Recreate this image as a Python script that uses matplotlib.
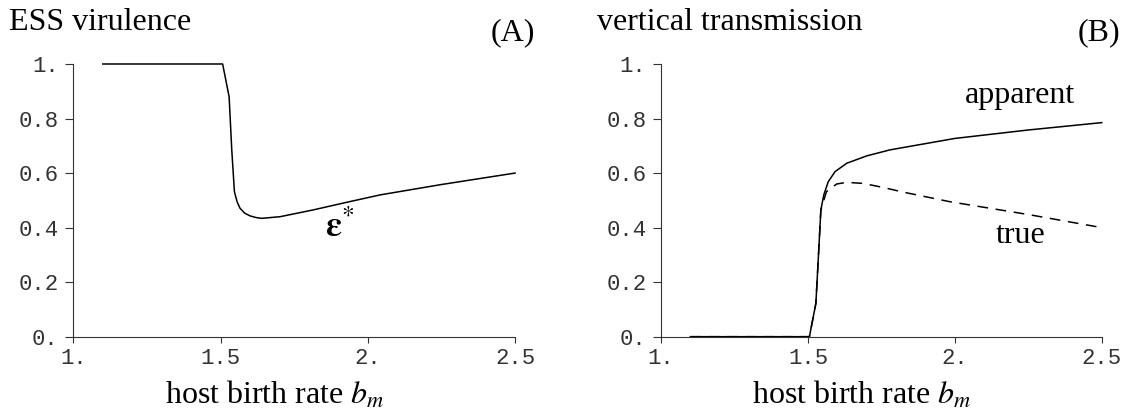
import matplotlib
matplotlib.use('Agg')
import matplotlib.pyplot as plt

# 字体设置
plt.rcParams['font.family'] = ['Liberation Serif', 'DejaVu Serif']
plt.rcParams['mathtext.fontset'] = 'stix'

# (A) ESS virulence 数据
bm_a = [1.1, 1.507, 1.529, 1.538, 1.547, 1.556, 1.566, 1.582, 1.600, 1.620, 1.640, 1.702,
        1.815, 1.929, 2.042, 2.25, 2.5]
ess = [1.0, 1.0, 0.880, 0.685, 0.532, 0.495, 0.471, 0.453, 0.443, 0.437, 0.434, 0.440,
       0.465, 0.493, 0.520, 0.558, 0.600]

# (B) vertical transmission 数据
bm_app = [1.1, 1.505, 1.527, 1.535, 1.544, 1.554, 1.569, 1.592, 1.632, 1.700, 1.779, 2.0, 2.25, 2.5]
apparent = [0.0, 0.0, 0.122, 0.281, 0.465, 0.520, 0.568, 0.605, 0.636, 0.663, 0.685, 0.727, 0.758, 0.785]
bm_true = [1.1, 1.505, 1.527, 1.535, 1.544, 1.563, 1.598, 1.632, 1.689, 1.757, 1.825, 1.983, 2.25, 2.5]
true_v = [0.0, 0.0, 0.122, 0.281, 0.465, 0.532, 0.560, 0.566, 0.562, 0.547, 0.530, 0.495, 0.448, 0.400]

xticks = [1.0, 1.5, 2.0, 2.5]
xtick_labels = ['1.', '1.5', '2.', '2.5']
yticks = [0.0, 0.2, 0.4, 0.6, 0.8, 1.0]
ytick_labels = ['0.', '0.2', '0.4', '0.6', '0.8', '1.']

fig = plt.figure(figsize=(11.25, 4.11), dpi=100)
ax1 = fig.add_axes([0.0652, 0.1808, 0.3926, 0.6635])
ax2 = fig.add_axes([0.5876, 0.1808, 0.3917, 0.6635])

ax1.plot(bm_a, ess, color='black', lw=1.1, clip_on=False)
ax2.plot(bm_app, apparent, color='black', lw=1.1, clip_on=False)
ax2.plot(bm_true, true_v, color='black', lw=1.1, ls=(0, (7, 5)), clip_on=False)

for ax in (ax1, ax2):
    ax.set_xlim(1.0, 2.5)
    ax.set_ylim(0.0, 1.0)
    ax.spines['top'].set_visible(False)
    ax.spines['right'].set_visible(False)
    for s in ('left', 'bottom'):
        ax.spines[s].set_color('#333333')
        ax.spines[s].set_linewidth(0.8)
    ax.set_xticks(xticks)
    ax.set_xticklabels(xtick_labels, family='Liberation Mono', fontsize=16, color='#333333')
    ax.set_yticks(yticks)
    ax.set_yticklabels(ytick_labels, family='Liberation Mono', fontsize=16, color='#333333')
    ax.tick_params(axis='x', direction='out', length=4, width=0.8, color='#333333', pad=4)
    ax.tick_params(axis='y', direction='out', length=5.5, width=0.8, color='#333333', pad=5)
    ax.set_xlabel(r'host birth rate $b_m$', fontsize=23)
    # x轴标题略偏左
    ax.xaxis.set_label_coords(0.456, -0.157)

# 标注
ax1.text(1.905, 0.366, r'$\mathbf{\varepsilon}^{*}$', fontsize=26, ha='center', va='baseline')
ax2.text(2.222, 0.857, 'apparent', fontsize=23, ha='center', va='baseline')
ax2.text(2.225, 0.344, 'true', fontsize=23, ha='center', va='baseline')

fig.text(0.008, 0.927, 'ESS virulence', fontsize=23, ha='left', va='baseline')
fig.text(0.5304, 0.927, 'vertical transmission', fontsize=23, ha='left', va='baseline')
fig.text(0.4756, 0.903, '(A)', fontsize=23, ha='right', va='baseline')
fig.text(0.9956, 0.903, '(B)', fontsize=23, ha='right', va='baseline')

plt.savefig('out.png', dpi=100)
